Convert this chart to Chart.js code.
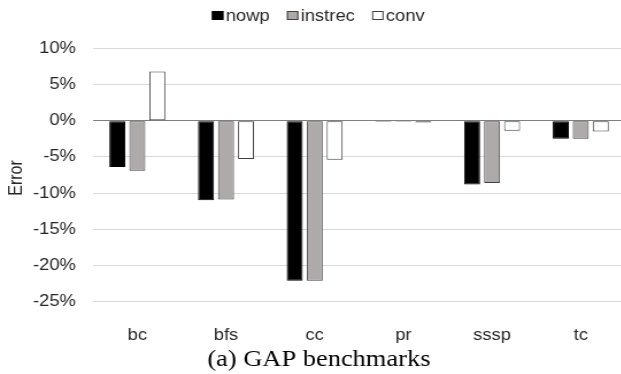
<!DOCTYPE html>
<html>
<head>
<meta charset="utf-8">
<script src="https://cdn.jsdelivr.net/npm/chart.js@4.4.1/dist/chart.umd.min.js"></script>
<style>
  html, body { margin: 0; padding: 0; background: #fff; overflow: hidden; }
  #wrap { width: 632px; height: 374px; overflow: hidden; }
</style>
</head>
<body>
<div id="wrap">
  <canvas id="errChart" width="550" height="374" style="width:632px;height:374px;display:block"></canvas>
</div>
<script>
// données (erreur en %)
const categories = ['bc', 'bfs', 'cc', 'pr', 'sssp', 'tc'];
const nowp    = [-6.4, -11.0, -22.1, -0.15, -8.8, -2.5];
const instrec = [-6.9, -10.9, -22.1, -0.15, -8.6, -2.5];
const conv    = [ 6.8,  -5.3,  -5.4, -0.25, -1.4, -1.5];
const yTicks  = [-25, -20, -15, -10, -5, 0, 5, 10];

const axisFont = { family: '"Liberation Sans", Arial, sans-serif', size: 16 };
const textColor = '#262626';

// legende, titre d'axe et legende de figure dessinés à la main
const decor = {
    id: 'decor',
    afterDraw(chart) {
        const c = chart.ctx;
        c.save();
        c.font = '16px "Liberation Sans", Arial, sans-serif';
        c.textBaseline = 'alphabetic';
        c.textAlign = 'left';
        const items = chart.data.datasets;
        const box = 10, gap = 2, itemGap = 15;
        let total = 0;
        items.forEach((d, i) => {
            total += box + gap + c.measureText(d.label).width;
            if (i < items.length - 1) total += itemGap;
        });
        let x = 277 - total / 2;
        items.forEach(d => {
            c.fillStyle = d.backgroundColor;
            c.fillRect(x, 11, box, 9);
            c.strokeStyle = d.borderColor;
            c.lineWidth = 1;
            c.strokeRect(x + 0.5, 11.5, box - 1, 8);
            c.fillStyle = textColor;
            c.fillText(d.label, x + box + gap, 20.5);
            x += box + gap + c.measureText(d.label).width + itemGap;
        });

        // titre de l'axe Y
        c.save();
        c.translate(15, 178);
        c.rotate(-Math.PI / 2);
        c.textAlign = 'center';
        c.textBaseline = 'middle';
        c.fillText('Error', 0, 0);
        c.restore();

        // légende sous le graphique
        c.font = '23px "Liberation Serif", "Times New Roman", serif';
        c.fillStyle = '#000';
        c.textAlign = 'center';
        c.fillText('(a) GAP benchmarks', 277.5, 366);
        c.restore();
    }
};

const ctx = document.getElementById('errChart').getContext('2d');
new Chart(ctx, {
    type: 'bar',
    data: {
        labels: categories,
        datasets: [
            { label: 'nowp', data: nowp, backgroundColor: '#000000', borderColor: '#000000', borderWidth: 1 },
            { label: 'instrec', data: instrec, backgroundColor: '#AEAAAA', borderColor: '#404040', borderWidth: 1 },
            { label: 'conv', data: conv, backgroundColor: '#FFFFFF', borderColor: '#404040', borderWidth: 1 }
        ]
    },
    options: {
        responsive: false,
        animation: false,
        devicePixelRatio: 1,
        layout: { padding: { left: 0, right: 6, top: 48.3, bottom: 0 } },
        datasets: {
            bar: { categoryPercentage: 0.676, barPercentage: 0.8, borderSkipped: false }
        },
        plugins: {
            legend: { display: false },
            title: { display: false },
            tooltip: { enabled: false }
        },
        scales: {
            x: {
                grid: { display: false },
                border: { display: false },
                ticks: { color: textColor, font: axisFont, padding: 16, maxRotation: 0, autoSkip: false },
                afterFit: s => { s.height = 72.3; }
            },
            y: {
                min: -25,
                max: 10,
                afterBuildTicks: s => { s.ticks = yTicks.map(v => ({ value: v })); },
                ticks: {
                    callback: v => v + '%',
                    color: textColor,
                    font: axisFont,
                    padding: 14.8
                },
                grid: {
                    drawTicks: false,
                    color: c => c.tick && c.tick.value === 0 ? '#7F7F7F' : '#D9D9D9',
                    lineWidth: 1
                },
                border: { display: false },
                afterFit: s => { s.width = 80.9; }
            }
        }
    },
    plugins: [decor]
});
</script>
</body>
</html>
